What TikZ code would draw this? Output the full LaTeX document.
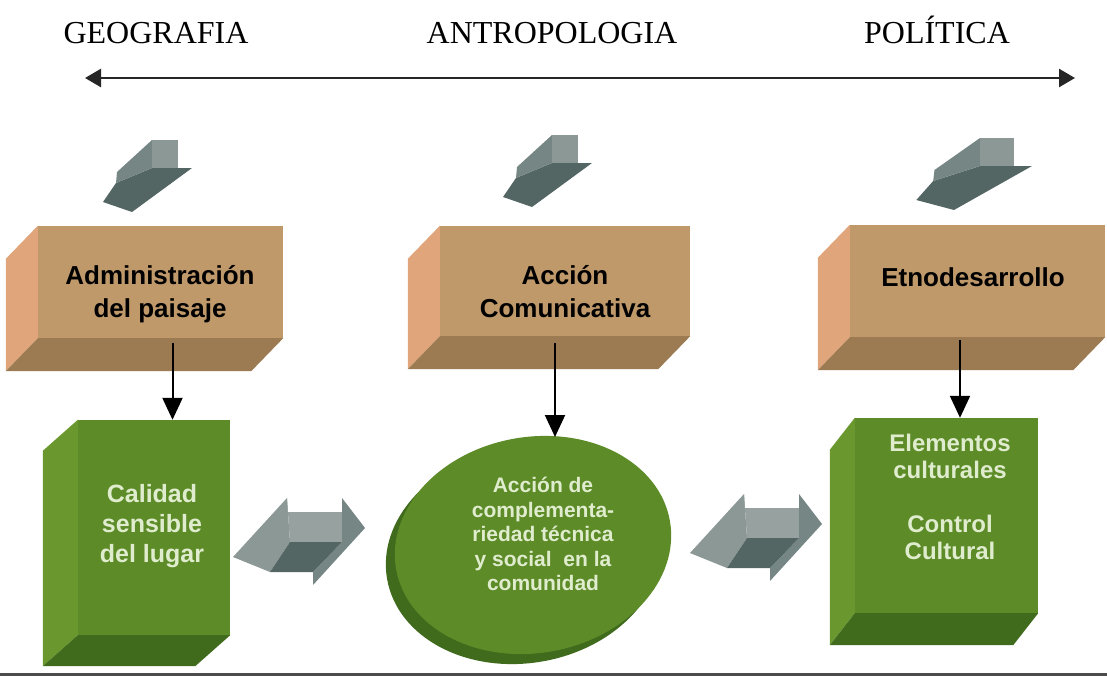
\documentclass[tikz,border=0pt]{standalone}
\usepackage{fontspec}
\setmainfont{Liberation Serif}
\setsansfont{Liberation Sans}
\usetikzlibrary{arrows.meta,shapes.geometric}

\definecolor{tanfront}{RGB}{192,153,107}
\definecolor{tanleft}{RGB}{224,165,122}
\definecolor{tanbottom}{RGB}{156,123,82}
\definecolor{leaf}{RGB}{92,139,39}
\definecolor{leafleft}{RGB}{106,152,46}
\definecolor{leafdark}{RGB}{64,106,28}
\definecolor{leaftext}{RGB}{224,236,206}
\definecolor{steel}{RGB}{140,152,150}
\definecolor{steelmid}{RGB}{118,134,132}
\definecolor{steeldark}{RGB}{84,102,100}

\begin{document}
\begin{tikzpicture}[x=1pt,y=-1pt,
    title/.style={font=\fontsize{32}{36}\selectfont,anchor=base},
    face/.style={inner sep=0pt},
    browntext/.style={font=\sffamily\bfseries\fontsize{26}{33}\selectfont,align=center},
    greentext/.style={font=\sffamily\bfseries\fontsize{25}{30}\selectfont,align=center,text=leaftext},
    flow/.style={-{Triangle[width=20pt,length=22pt]},line width=2pt}]
\useasboundingbox[fill=white](0,0)rectangle(1107,677);

% headings and the long double arrow
\node[title](geo)at(156, 44){GEOGRAFIA};
\node[title](antro)at(552, 44){ANTROPOLOGIA};
\node[title](pol)at(937, 44){POLÍTICA};
\coordinate(west)at(85, 78);
\coordinate(east)at(1075, 78);
\draw[{Triangle[width=18pt,length=16pt]}-{Triangle[width=18pt,length=16pt]},line width=2.5pt,black!85](west)--(east);

% grey arrows pointing down
\foreach \x/\y/\s in {152/140/1, 552/135/1, 980/138/1.3}{
    \begin{scope}[shift={(\x,\y)},xscale=\s]
        \fill[steeldark](0,28)--(40,28)--(-20,72)--(-49,62)--(-36,43)--cycle;
        \fill[steelmid](0,0)--(0,28)--(-36,43)--(-35,32)--cycle;
        \fill[steel](0,0)rectangle(26,28);
    \end{scope}}

% brown boxes
\node[face,fill=tanfront,minimum width=245pt,minimum height=112pt](adm)at(160.5, 282){};
\node[face,fill=tanfront,minimum width=250pt,minimum height=110pt](acc)at(565, 281){};
\node[face,fill=tanfront,minimum width=255pt,minimum height=112pt](etno)at(977.5, 281){};
\foreach \b in {adm,acc,etno}{
    \fill[tanleft](\b.north west)--++(-32,33)--([shift={(-32,33)}]\b.south west)--(\b.south west)--cycle;
    \fill[tanbottom](\b.south west)--(\b.south east)--++(-32,33)--([shift={(-32,33)}]\b.south west)--cycle;}
\node[browntext](admtxt)at(160, 294){Administración\\del paisaje};
\node[browntext](acctxt)at(565, 292){Acción\\Comunicativa};
\node[browntext](etnotxt)at(973, 277){Etnodesarrollo};

% green boxes
\node[face,fill=leaf,minimum width=152pt,minimum height=215pt](cal)at(154, 527.5){};
\fill[leafleft](cal.north west)--++(-35,31)--([shift={(-35,31)}]cal.south west)--(cal.south west)--cycle;
\fill[leafdark](cal.south west)--(cal.south east)--++(-35,31)--([shift={(-35,31)}]cal.south west)--cycle;
\node[greentext](caltxt)at(152, 526){Calidad\\sensible\\del lugar};

\node[face,fill=leaf,minimum width=183pt,minimum height=195pt](elem)at(946.5, 515.5){};
\fill[leafleft](elem.north west)--++(-25,32)--([shift={(-25,32)}]elem.south west)--(elem.south west)--cycle;
\fill[leafdark](elem.south west)--(elem.south east)--++(-25,32)--([shift={(-25,32)}]elem.south west)--cycle;
\node[greentext,font=\sffamily\bfseries\fontsize{24}{27}\selectfont](elemtxt)at(950, 497){Elementos\\culturales\\[27pt]Control\\Cultural};

% green disc
\fill[leafdark,rotate around={10:(524,555)}](524,555)ellipse[x radius=139,y radius=108];
\fill[leaf,rotate around={10:(533,545)}](533,545)ellipse[x radius=139,y radius=108];
\node[greentext,font=\sffamily\bfseries\fontsize{21}{24.5}\selectfont](comp)at(543, 534){Acción de\\complementa-\\riedad técnica\\y social\ \ en la\\comunidad};
\coordinate(comptop)at(555, 437);

% grey double arrows
\foreach \x/\y in {233/557, 690/553}{
    \begin{scope}[shift={(\x,\y)}]
        \fill[steel](0,0)--(54,-59)--(57,-15)--(37,15)--cycle;
        \fill[steel!90!white](54,-59)--(54,-45)--(109,-45)--(109,-15)--(57,-15)--cycle;
        \fill[steelmid](109,-59)--(132,-29)--(80,28)--(80,15)--(109,-15)--cycle;
        \fill[steeldark](57,-15)--(109,-15)--(80,15)--(37,15)--cycle;
    \end{scope}}

% black arrows
\coordinate(admout)at([shift={(12,5)}]adm.south);
\coordinate(accout)at([shift={(-10,7)}]acc.south);
\coordinate(etnoout)at([shift={(-17.5,3)}]etno.south);
\draw[flow](admout)--(admout |- cal.north);
\draw[flow](accout)--(comptop);
\draw[flow](etnoout)--(etnoout |- elem.north);

% edge of the page
\draw[line width=3pt,black!70](0,674)--(1107,674);
\end{tikzpicture}
\end{document}
